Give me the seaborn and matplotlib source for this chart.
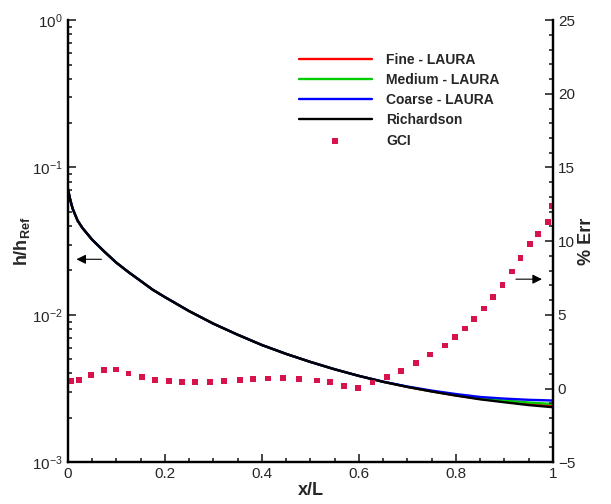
import numpy as np
import pandas as pd
import seaborn as sns
import matplotlib
matplotlib.use("Agg")
import matplotlib.pyplot as plt

# heating profile along body (left axis, log)
x_curve = [0.0, 0.005, 0.01, 0.02, 0.03, 0.04, 0.05, 0.075, 0.1, 0.125, 0.15, 0.175, 0.2,
           0.25, 0.3, 0.35, 0.4, 0.45, 0.5, 0.55, 0.6, 0.65, 0.7, 0.75, 0.8, 0.85, 0.9, 0.95, 1.0]
h_rich = [0.0719, 0.0603, 0.0525, 0.0437, 0.0389, 0.0355, 0.0324, 0.0269, 0.0226, 0.0195,
          0.0170, 0.0148, 0.0132, 0.0106, 0.00871, 0.00733, 0.00624, 0.00543, 0.00479, 0.00427,
          0.00385, 0.00351, 0.00324, 0.00302, 0.00283, 0.00267, 0.00255, 0.00244, 0.00236]
h_fine = [0.0719, 0.0603, 0.0525, 0.0437, 0.0389, 0.0355, 0.0324, 0.0269, 0.0226, 0.0195,
          0.0170, 0.0148, 0.0132, 0.0106, 0.00871, 0.00733, 0.00624, 0.00543, 0.00479, 0.00427,
          0.00385, 0.00351, 0.00324, 0.00302, 0.00284, 0.00269, 0.00258, 0.00248, 0.00240]
h_medium = [0.0719, 0.0603, 0.0525, 0.0437, 0.0389, 0.0355, 0.0324, 0.0269, 0.0226, 0.0195,
            0.0170, 0.0148, 0.0132, 0.0106, 0.00871, 0.00733, 0.00624, 0.00543, 0.00479, 0.00427,
            0.00385, 0.00351, 0.00325, 0.00303, 0.00286, 0.00272, 0.00262, 0.00254, 0.00248]
h_coarse = [0.0719, 0.0603, 0.0525, 0.0437, 0.0389, 0.0355, 0.0324, 0.0269, 0.0226, 0.0195,
            0.0170, 0.0148, 0.0132, 0.0106, 0.00871, 0.00733, 0.00624, 0.00543, 0.00479, 0.00427,
            0.00385, 0.00352, 0.00326, 0.00306, 0.00290, 0.00277, 0.00270, 0.00265, 0.00262]

# grid convergence index (right axis, %)
x_gci = [0.007, 0.023, 0.048, 0.074, 0.100, 0.125, 0.153, 0.180, 0.208, 0.235,
         0.262, 0.293, 0.322, 0.355, 0.382, 0.412, 0.443, 0.477, 0.513, 0.540,
         0.569, 0.599, 0.628, 0.658, 0.687, 0.717, 0.746, 0.777, 0.798, 0.818,
         0.837, 0.858, 0.877, 0.896, 0.915, 0.933, 0.953, 0.970, 0.989, 0.997]
err_gci = [0.50, 0.59, 0.90, 1.27, 1.29, 1.02, 0.77, 0.56, 0.48, 0.45,
           0.45, 0.43, 0.48, 0.56, 0.63, 0.68, 0.73, 0.66, 0.54, 0.43,
           0.16, 0.05, 0.41, 0.79, 1.20, 1.72, 2.31, 2.92, 3.50, 4.07,
           4.72, 5.43, 6.20, 7.04, 7.94, 8.85, 9.82, 10.50, 11.32, 12.40]

cases = ["Fine - LAURA", "Medium - LAURA", "Coarse - LAURA", "Richardson"]
colors = ["#ff0000", "#00cc00", "#0000ff", "#000000"]

df = pd.concat([
    pd.DataFrame({"x": x_curve, "h": vals, "case": name})
    for name, vals in zip(cases, [h_fine, h_medium, h_coarse, h_rich])
])
gci = pd.DataFrame({"x": x_gci, "err": err_gci})

sns.set_style("white")
plt.rcParams["font.family"] = ["Liberation Sans", "DejaVu Sans"]
plt.rcParams["mathtext.fontset"] = "custom"
plt.rcParams["mathtext.rm"] = "Liberation Sans"
plt.rcParams["mathtext.bf"] = "Liberation Sans:bold"

fig = plt.figure(figsize=(6.11, 5.04), dpi=100)
ax = fig.add_axes([0.111, 0.083, 0.794, 0.877])

sns.lineplot(data=df, x="x", y="h", hue="case", hue_order=cases, palette=colors,
             estimator=None, sort=False, linewidth=1.7, legend=False, ax=ax)
ax.set_yscale("log")
ax.set_ylim(1e-3, 1)
ax.set_xlim(0, 1)
ax.set_xticks([0, 0.2, 0.4, 0.6, 0.8, 1])
ax.set_xticklabels(["0", "0.2", "0.4", "0.6", "0.8", "1"])
ax.set_xticks(np.arange(0, 1.001, 0.05), minor=True)
ax.set_xlabel("x/L", fontsize=13, fontweight="bold", labelpad=1)
ax.set_ylabel(r"h/h$_{\mathbf{Ref}}$", fontsize=13, fontweight="bold", labelpad=0)

ax2 = ax.twinx()
sns.scatterplot(data=gci, x="x", y="err", marker="s", s=18, color="#d8134b",
                edgecolor="none", ax=ax2, label="GCI", legend=False)
ax2.set_ylim(-5, 25)
ax2.set_yticks(range(-5, 26, 5))
ax2.set_yticks(range(-5, 26, 1), minor=True)
ax2.set_ylabel("% Err", fontsize=13, fontweight="bold", labelpad=2)

for a in (ax, ax2):
    a.spines["top"].set_visible(False)
    for s in ("left", "right", "bottom"):
        a.spines[s].set_linewidth(1.6)
        a.spines[s].set_color("black")
    a.tick_params(which="both", direction="in", labelsize=11, width=1.2)
    a.tick_params(which="major", length=6)
    a.tick_params(which="minor", length=3)
ax.tick_params(axis="y", which="both", right=False, left=True)
ax.tick_params(axis="x", which="both", top=False, bottom=True)
ax2.tick_params(axis="y", which="both", right=True, left=False)

# arrows pointing to the axis each quantity uses
ax.annotate("", xy=(0.012, 0.459), xytext=(0.075, 0.459), xycoords="axes fraction",
            arrowprops=dict(arrowstyle="-|>", color="black", lw=0.8, mutation_scale=14))
ax.annotate("", xy=(0.983, 0.414), xytext=(0.918, 0.414), xycoords="axes fraction",
            arrowprops=dict(arrowstyle="-|>", color="black", lw=0.8, mutation_scale=14))

handles = list(ax.get_lines()[:4]) + [ax2.collections[0]]
leg = ax.legend(handles, cases + ["GCI"], loc="upper left", bbox_to_anchor=(0.45, 0.955),
                frameon=False, handlelength=5.3, handletextpad=1.0, labelspacing=0.45,
                prop={"weight": "bold", "size": 10})

fig.savefig("out.png", dpi=100)
